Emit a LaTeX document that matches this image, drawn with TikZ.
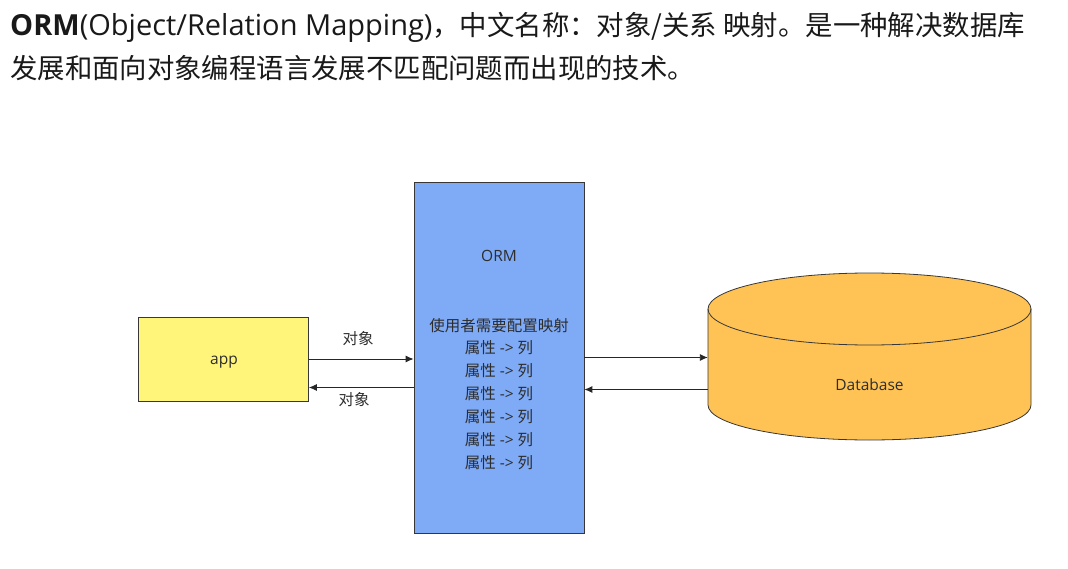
\documentclass[tikz,border=0pt]{standalone}
\usepackage{fontspec}
\setmainfont{Open Sans}
\newfontfamily\cjk{Noto Sans CJK SC}
\usetikzlibrary{arrows.meta}
\definecolor{appfill}{RGB}{255,245,122}
\definecolor{ormfill}{RGB}{126,170,246}
\definecolor{dbfill}{RGB}{255,195,85}
\definecolor{edge}{RGB}{55,55,55}
\definecolor{ink}{RGB}{45,45,45}

\begin{document}
\begin{tikzpicture}[x=1pt, y=-1pt,
  box/.style={draw=edge, line width=0.8pt, inner sep=0pt},
  lbl/.style={text=ink, font=\fontsize{15.5}{18}\selectfont, inner sep=0pt, anchor=base},
  link/.style={draw=black!85, line width=0.9pt, -{Latex[length=8pt,width=7pt]}},
  head/.style={text=black!90, font=\fontsize{27.4}{30}\selectfont, inner sep=0pt, anchor=base west}]
\useasboundingbox (0,0) rectangle (1068,569);

\node [head] (h1) at (10,36) {{\fontsize{29}{30}\selectfont\textbf{ORM}(Object/Relation Mapping)}{\cjk ，中文名称：对象/关系 映射。是一种解决数据库}};
\node [head] (h2) at (10,79) {\cjk 发展和面向对象编程语言发展不匹配问题而出现的技术。};

\node [box, fill=appfill, minimum width=170pt, minimum height=84pt] (app) at (223.5,359) {};
\node [lbl] (applbl) at (224,364) {app};

\node [box, fill=ormfill, minimum width=170pt, minimum height=351pt] (orm) at (499,357.5) {};
\node [lbl] (ormlbl) at (499,262) {ORM};
\node [lbl] (cfg) at (499,331) {\cjk 使用者需要配置映射};
\foreach \i in {1,...,6}
  \node [lbl] (col\i) at (499,353+23*\i-23) {{\cjk 属性} -> {\cjk 列}};

% database cylinder
\draw [draw=edge, line width=0.8pt, fill=dbfill] (708,309) -- (708,405)
  arc [start angle=180, end angle=360, x radius=161.5pt, y radius=35pt] -- (1031,309)
  arc [start angle=0, end angle=180, x radius=161.5pt, y radius=36pt] -- cycle;
\draw [draw=edge, line width=0.8pt] (708,309)
  arc [start angle=180, end angle=360, x radius=161.5pt, y radius=36pt];
\node [inner sep=0pt, minimum width=323pt, minimum height=167pt] (db) at (869.5,356.5) {};
\node [lbl] (dblbl) at (869.5,390) {Database};

\draw [link] (app.east |- 0,359) to (orm.west |- 0,359);
\draw [link] (orm.west |- 0,387.5) to (app.east |- 0,387.5);
\node [lbl] (obj1) at (358,344) {\cjk 对象};
\node [lbl] (obj2) at (354,405) {\cjk 对象};

\draw [link] (orm.east |- 0,357.5) to (db.west |- 0,357.5);
\draw [link] (db.west |- 0,389.5) to (orm.east |- 0,389.5);
\end{tikzpicture}
\end{document}
